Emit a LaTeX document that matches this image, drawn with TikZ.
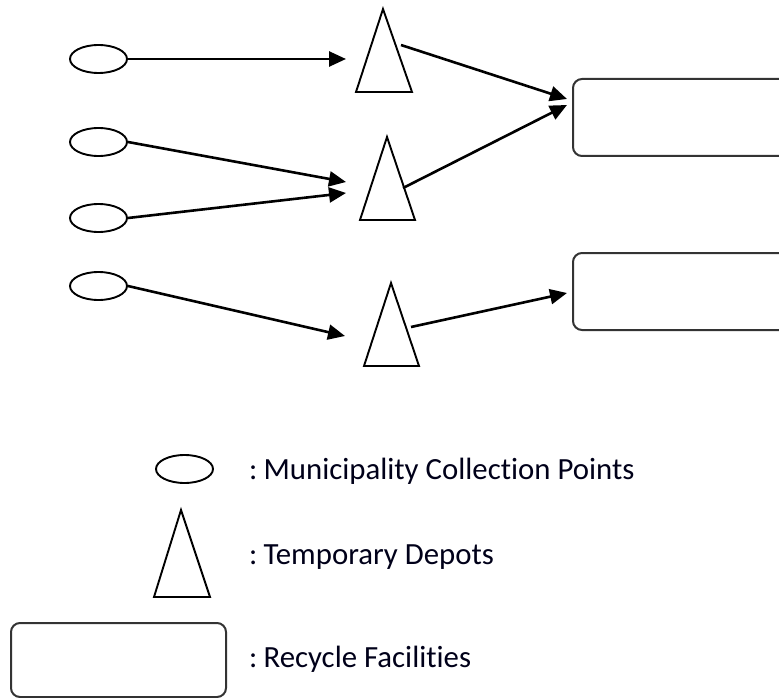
\documentclass[tikz,border=0pt]{standalone}
\usepackage{fontspec}
\setmainfont[Ligatures=NoCommon]{Carlito}
\usetikzlibrary{arrows.meta,shapes.geometric}
\begin{document}
\begin{tikzpicture}[x=1pt,y=-1pt,
  cpoint/.style={draw=black,line width=1.9pt,ellipse,minimum width=57pt,minimum height=28pt,inner sep=0pt},
  facility/.style={draw=black!80,line width=2pt,rounded corners=9pt},
  depot/.style={draw=black,line width=1.9pt,line join=miter},
  flow/.style={line width=2.6pt,-{Triangle[length=17pt,width=15pt]}},
  legtext/.style={anchor=base west,inner sep=0pt,font=\fontsize{30.8}{35}\selectfont,text=black!90!blue}]
\useasboundingbox (0,0) rectangle (779,698);
\clip (0,0) rectangle (779,698);
% collection points
\node[cpoint] (c1) at (98.5,59) {};
\node[cpoint] (c2) at (98.5,142) {};
\node[cpoint] (c3) at (98.5,218) {};
\node[cpoint] (c4) at (98.5,286) {};
% depots
\draw[depot] (383,9) -- (412,92) -- (356,92) -- cycle;
\draw[depot] (387,137) -- (415,220) -- (360,220) -- cycle;
\draw[depot] (391,283) -- (419,366) -- (364,366) -- cycle;
\coordinate (d1in) at (346,59);
\coordinate (d2inA) at (346,182);
\coordinate (d2inB) at (346,193);
\coordinate (d3in) at (345,336);
\coordinate (d1out) at (401,45);
\coordinate (d2out) at (403,188);
\coordinate (d3out) at (411,327);
% recycle facilities
\draw[facility] (573,79) rectangle (820,156);
\draw[facility] (573,253) rectangle (820,330);
\coordinate (r1inA) at (567,99);
\coordinate (r1inB) at (567,105);
\coordinate (r2in) at (567,293);
% flows
\draw[flow] (c1.east) -- (d1in);
\draw[flow] (c2.east) -- (d2inA);
\draw[flow] (c3.east) -- (d2inB);
\draw[flow] (c4.east) -- (d3in);
\draw[flow] (d1out) -- (r1inA);
\draw[flow] (d2out) -- (r1inB);
\draw[flow] (d3out) -- (r2in);
% legend
\node[cpoint] (lc) at (184.5,469) {};
\node[legtext] (lct) at (249,479) {:\kern0.2em Municipality Collection Points};
\draw[depot] (181,510) -- (210,597) -- (154,597) -- cycle;
\node[legtext] (ldt) at (249,564) {:\kern0.2em Temporary Depots};
\draw[facility] (11,623) rectangle (226,697);
\node[legtext] (lrt) at (249,667) {:\kern0.2em Recycle Facilities};
\end{tikzpicture}
\end{document}
